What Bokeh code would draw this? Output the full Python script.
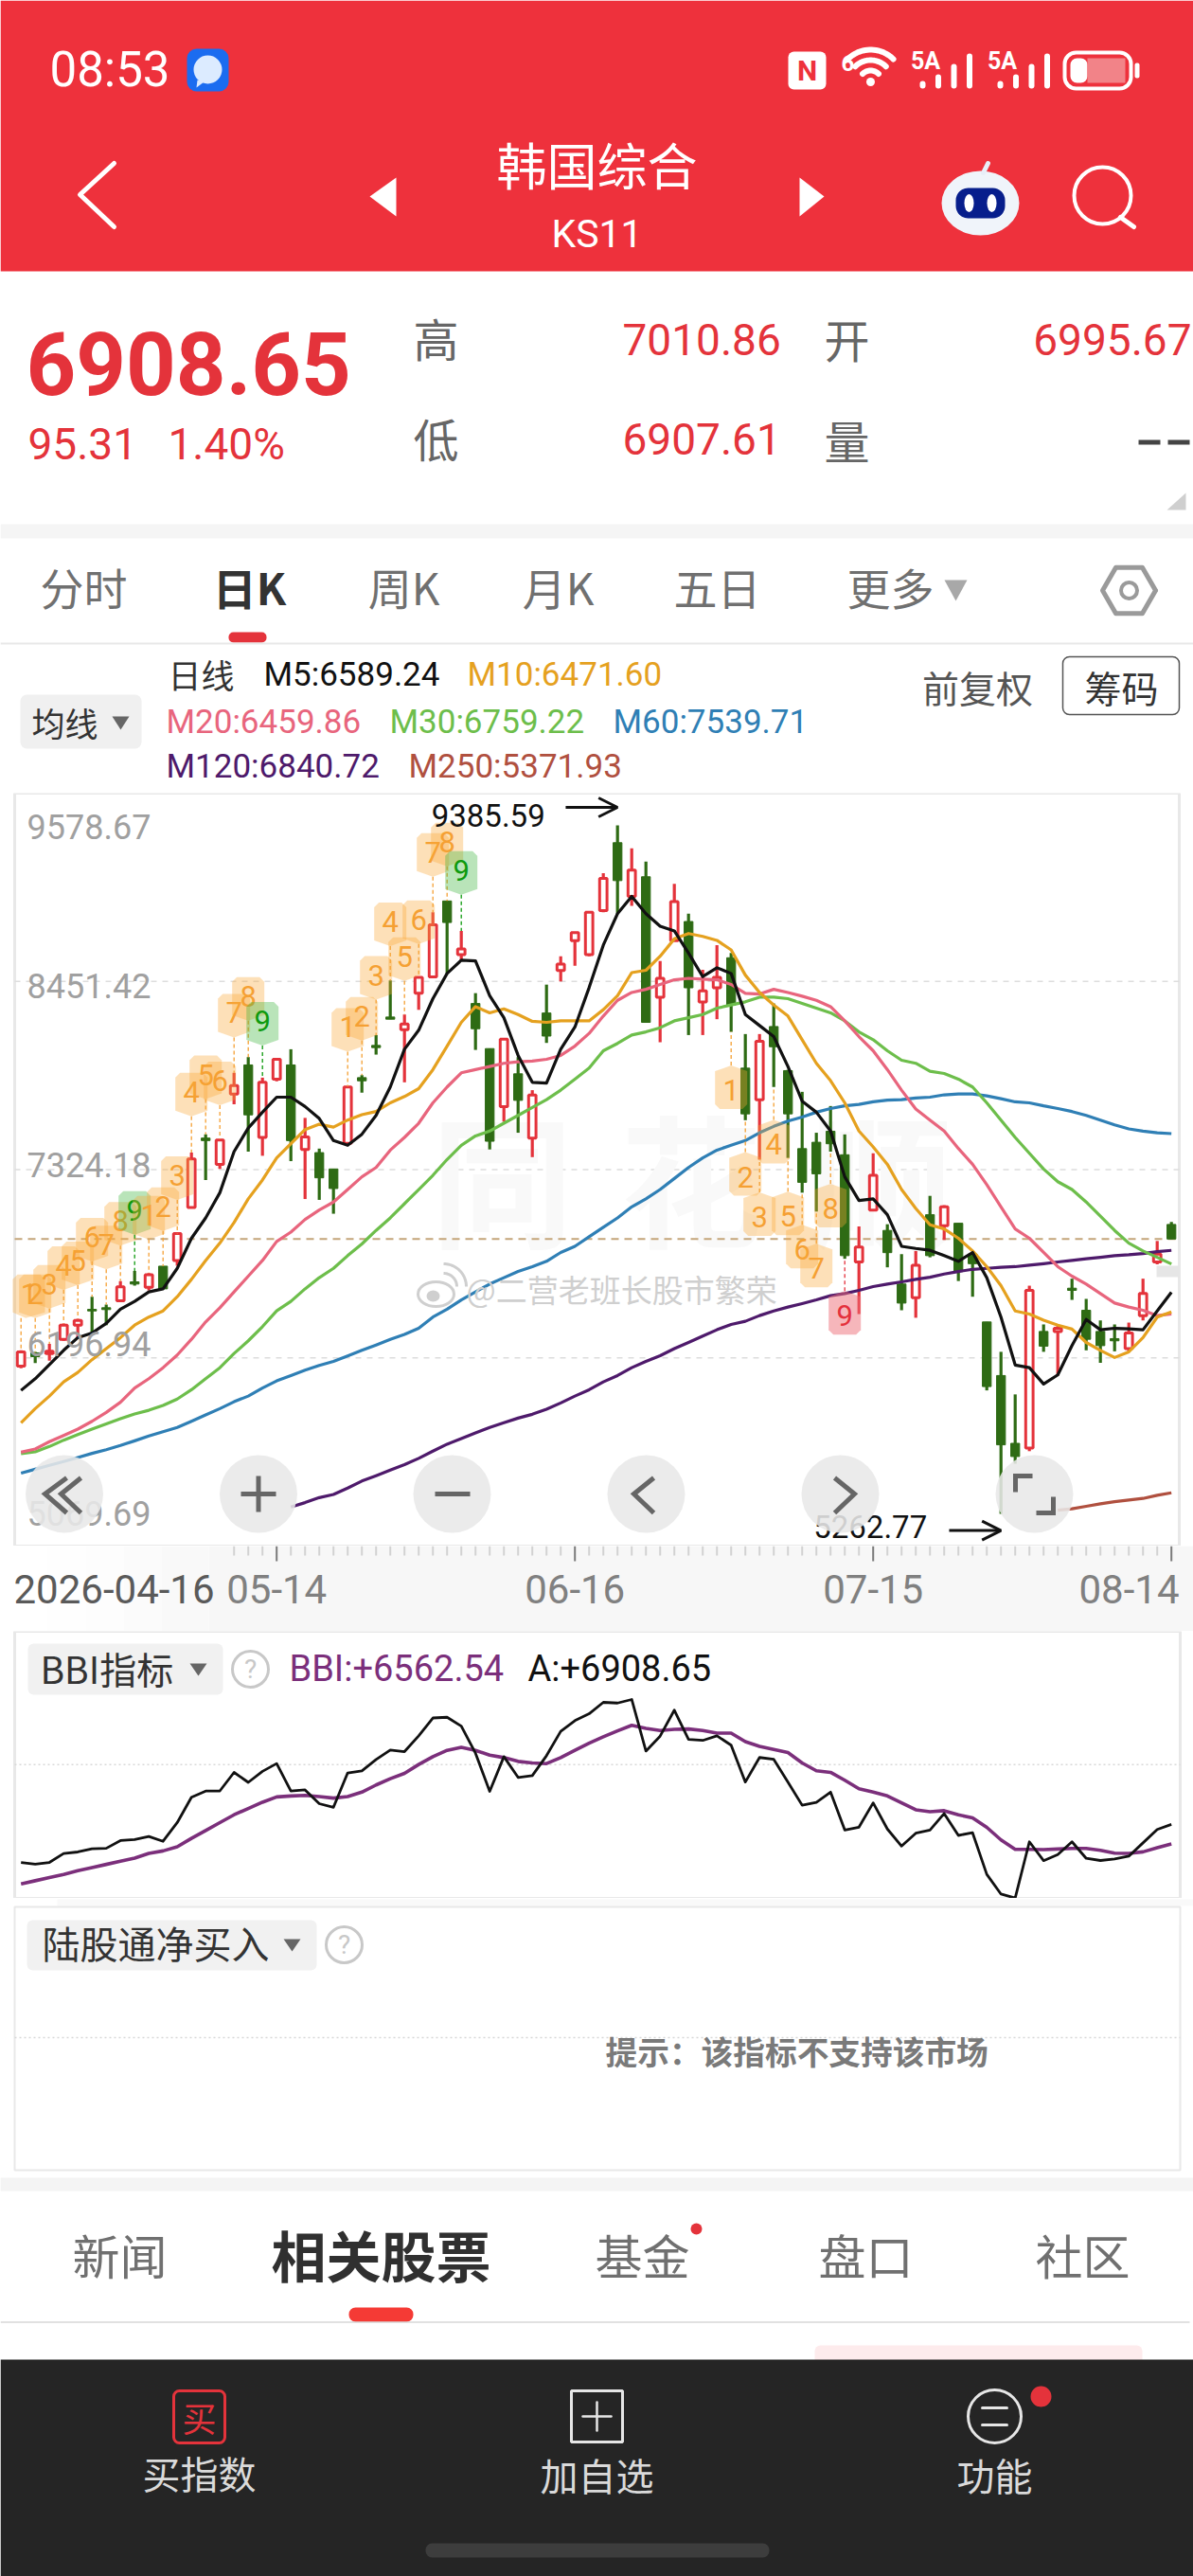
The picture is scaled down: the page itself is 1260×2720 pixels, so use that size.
import numpy as np
from bokeh.core.properties import value
from bokeh.embed import file_html
from bokeh.layouts import column
from bokeh.models import (Arrow, ColumnDataSource, OpenHead, Range1d)
from bokeh.plotting import figure
from bokeh.resources import INLINE

# ---------------------------------------------------------------- data
opens = [6148,6227,6223,6308,6393,6487,6497,6539,6652,6620,6746,6780,7097,7513,7356,7777,7951,7517,7866,7951,
         7445,7426,7328,7482,7875,8068,8238,8162,8381,8479,8933,8612,8319,8049,7702,7898,7513,8262,8517,8696,
         8612,8876,9282,8961,9078,8357,8696,8810,8328,8413,8593,7932,7743,8181,7917,7450,7488,7554,7413,6771,
         7082,6960,6639,6557,7054,6988,7003,6818,6412,6091,5685,5657,6355,6355,6614,6482,6355,6312,6252,6450,
         6771,6995.67]
highs = [6242,6233,6280,6403,6431,6563,6516,6657,6718,6705,6746,6941,7426,7535,7507,7904,7998,7875,7989,8045,
         7634,7450,7328,7822,7890,8130,8457,8253,8479,8866,8933,8753,8381,8049,8111,7998,7800,8432,8602,8747,
         8872,9099,9385.59,9248,9169,8574,9036,8857,8521,8668,8621,8136,8136,8319,7922,7790,7545,7705,7535,6984,
         7422,6997,6818,6837,7167,7111,7003,6827,6412,6233,5978,6629,6397,6393,6671,6550,6421,6397,6408,6671,
         6897,7010.86]
lows = [6135,6166,6180,6299,6317,6346,6393,6535,6629,6601,6610,6748,7092,7262,7328,7715,7432,7407,7853,7375,
        7148,7143,7060,7475,7785,8013,8225,7847,8281,8479,8498,8574,8041,7445,7611,7545,7399,8083,8451,8545,
        8602,8866,8857,8904,8206,8087,8696,8130,8130,8225,8149,7620,7384,7819,7394,7186,7073,7432,6790,6459,
        7082,6739,6482,6437,6799,6903,6657,6563,6002,5262.77,5563,5638,6233,6091,6544,6242,6167,6236,6233,6421,
        6757,6907.61]
closes = [6233,6204,6236,6393,6421,6478,6486,6623,6639,6695,6610,6941,7388,7498,7501,7828,7652,7847,7985,7498,
          7520,7275,7211,7819,7856,8055,8225,8196,8476,8791,8804,8646,8168,7494,8106,7739,7771,8124,8555,8744,
          8866,9068,9055,9118,8206,8470,8929,8413,8394,8476,8309,7658,8092,8060,7658,7248,7299,7479,6809,6860,
          7290,6827,6525,6752,6809,7101,6714,6761,6025,5676,5606,6601,6267,6374,6601,6308,6270,6299,6346,6582,
          6818,6908.65]
m5 = [6002,6072,6157,6242,6318,6346,6403,6488,6535,6592,6610,6733,6913,7035,7186,7432,7573,7668,7758,7758,
      7702,7630,7498,7470,7536,7649,7819,8045,8159,8348,8499,8578,8574,8366,8234,8008,7847,7842,8045,8178,
      8414,8669,8857,8961,8857,8782,8754,8621,8480,8533,8499,8253,8187,8121,7942,7734,7668,7555,7281,7139,
      7149,7054,6865,6852,6841,6809,6775,6828,6677,6441,6154,6138,6040,6095,6271,6427,6365,6374,6371,6365,
      6478,6589.24]
m10 = [5808,5893,5968,6053,6110,6186,6252,6318,6393,6441,6478,6563,6667,6780,6884,7007,7149,7262,7394,7479,
       7564,7596,7579,7621,7653,7672,7724,7762,7809,7923,8064,8206,8300,8263,8287,8253,8212,8206,8215,8215,
       8215,8282,8366,8504,8518,8602,8706,8738,8721,8697,8640,8489,8385,8310,8244,8102,7961,7857,7724,7555,
       7460,7356,7205,7092,6994,6969,6913,6837,6743,6629,6478,6459,6422,6393,6369,6289,6242,6199,6233,6318,
       6441,6471.60]
m20 = [5632,5651,5695,5732,5770,5817,5870,5931,6016,6072,6138,6214,6308,6412,6497,6592,6686,6780,6894,6950,
       7026,7082,7130,7205,7281,7337,7441,7517,7602,7724,7819,7904,7923,7942,7961,7970,7974,7985,8008,8064,
       8140,8244,8338,8385,8404,8433,8461,8470,8465,8461,8433,8380,8376,8404,8385,8363,8338,8300,8215,8121,
       8036,7923,7800,7687,7621,7555,7451,7356,7234,7101,6969,6913,6828,6743,6686,6639,6582,6525,6501,6482,
       6450,6459.86]
m30 = [5623,5634,5666,5704,5738,5770,5802,5832,5861,5883,5912,5950,6006,6072,6138,6223,6299,6384,6478,6535,
       6610,6677,6733,6809,6879,6960,7035,7120,7205,7290,7385,7470,7526,7555,7602,7649,7696,7743,7800,7866,
       7932,8036,8080,8130,8149,8174,8215,8234,8253,8291,8310,8329,8357,8357,8348,8319,8291,8263,8215,8149,
       8102,8036,7979,7961,7913,7900,7866,7819,7724,7621,7517,7422,7328,7252,7205,7130,7045,6960,6884,6837,
       6799,6759.22]
m60 = [5506,5530,5553,5576,5600,5625,5647,5672,5700,5729,5755,5780,5817,5855,5893,5934,5968,6016,6059,6091,
       6123,6152,6176,6208,6242,6274,6308,6337,6374,6441,6488,6544,6592,6639,6677,6714,6743,6775,6828,6865,
       6922,6979,7035,7101,7149,7205,7271,7337,7394,7441,7470,7498,7545,7583,7615,7639,7668,7690,7706,7715,
       7730,7740,7743,7753,7758,7772,7777,7777,7766,7749,7730,7724,7706,7690,7672,7649,7621,7592,7568,7555,
       7545,7539.71]
m120 = [float("nan")]*19 + [5304,5330,5360,5379,5417,5459,5491,5525,5557,5595,5638,5680,5714,5748,5780,5808,5836,
        5859,5889,5927,5968,6006,6053,6091,6138,6176,6210,6252,6289,6327,6365,6397,6416,6450,6478,6501,6522,
        6544,6569,6582,6601,6624,6639,6652,6667,6680,6699,6714,6727,6733,6739,6743,6752,6761,6771,6780,6790,
        6799,6809,6814,6822,6833,6840.72]
m250 = [float("nan")]*73 + [5285,5293,5308,5323,5336,5345,5355,5374,5389]
bbi = [5856,5912,5967,6023,6089,6145,6201,6256,6312,6395,6440,6512,6662,6801,6940,7079,7190,7301,7395,7412,
       7423,7401,7373,7401,7479,7606,7718,7812,7968,8107,8218,8273,8218,8134,8090,8023,7996,7984,8090,8218,
       8346,8457,8562,8662,8607,8568,8590,8596,8568,8523,8523,8373,8290,8234,8179,7996,7857,7829,7690,7540,
       7479,7412,7290,7167,7134,7151,7079,7023,6856,6634,6467,6467,6462,6473,6484,6484,6451,6401,6395,6423,
       6495,6562.54]

price_ticks = [9578.67, 8451.42, 7324.18, 6196.94, 5069.69]
price_labels = ["9578.67", "8451.42", "7324.18", "6196.94", "5069.69"]
grid_prices = [8451.42, 7324.18, 6196.94]
last_price = 6908.65
bbi_grid = 7968

date_ticks = [18, 39, 60, 81]
date_labels = ["05-14", "06-16", "07-15", "08-14"]
first_date = "2026-04-16"

td_up_index = [0,1,2,3,4,5,6,7,8,9,10,11,12,13,14,15,16,17,23,24,25,26,27,28,29,30,31]
td_up_digit = [1,2,3,4,5,6,7,8,9,1,2,3,4,5,6,7,8,9,1,2,3,4,5,6,7,8,9]
td_up_price = [6582,6582,6639,6752,6780,6922,6875,7016,7082,7054,7105,7290,7790,7894,7857,8263,8363,8215,
               8178,8244,8489,8810,8602,8823,9226,9288,9118]
td_dn_index = [50,51,52,53,54,55,56,57,58]
td_dn_digit = [1,2,3,4,5,6,7,8,9]
td_dn_price = [7800,7281,7041,7475,7045,6846,6733,7092,6450]

ma_names = ["M5", "M10", "M20", "M30", "M60", "M120", "M250"]
ma_last = ["6589.24", "6471.60", "6459.86", "6759.22", "7539.71", "6840.72", "5371.93"]

# ---------------------------------------------------------------- styling
W = 1260
RED = "#E4333B"
GRN = "#2E6B14"
ORG = "#F9A83B"
CJK = "Noto Sans CJK SC"
NUM = "Roboto"
MA_COL = ["#111111", "#E5A11F", "#E8657D", "#6DBE4B", "#2F7FB5", "#4E1A6B", "#B0503F"]
BAND_RED = "#EE313C"

def chrome(top, bottom):
    p = figure(width=W, height=bottom-top, x_range=Range1d(0, W), y_range=Range1d(bottom, top),
               min_border=0, toolbar_location=None, x_axis_location=None, y_axis_location=None,
               output_backend="svg", outline_line_color=None, background_fill_color="white",
               border_fill_color="white")
    p.grid.visible = False
    return p

def T(p, x, y, s, size, color, align="left", font=NUM, bold=False):
    if font == CJK:
        y -= 3
    p.text([x], [y], text=[s], text_font=value(font), text_font_size=f"{size}px", text_color=color,
           text_align=align, text_baseline="middle", text_font_style="bold" if bold else "normal")

def Q(p, x0, y0, x1, y1, color, r=0, line=None, lw=1):
    p.quad(left=[x0], right=[x1], top=[y0], bottom=[y1], fill_color=color, line_color=line, line_width=lw,
           border_radius=r)

def L(p, xs, ys, color, lw=3, cap="round"):
    p.line(xs, ys, line_color=color, line_width=lw, line_cap=cap, line_join="round")

def TRI(p, xs, ys, color):
    p.patch(xs, ys, fill_color=color, line_color=None)

def ARC(cx, cy, r, a0, a1, n=24):
    t = np.radians(np.linspace(a0, a1, n))
    return list(cx + r*np.cos(t)), list(cy - r*np.sin(t))

# ---------------------------------------------------------------- top chrome
a = chrome(0, 837)
Q(a, 0, 0, W, 286, BAND_RED)
T(a, 52, 73, "08:53", 51, "white", font=NUM, bold=False)
Q(a, 197, 51, 241, 96, "#1B6CF0", r=10)
a.ellipse([219], [73], width=[30], height=[30], fill_color="#DCEBFF", line_color=None)
TRI(a, [208, 215, 207], [84, 86, 92], "#DCEBFF")
# status icons
Q(a, 832, 54, 872, 94, "white", r=6)
T(a, 852, 74, "N", 30, BAND_RED, align="center", bold=True)
T(a, 895, 66, "6", 24, "white", align="center", bold=True)
for r_, lw_ in ((34, 6), (23, 6), (12, 6)):
    xs, ys = ARC(919, 86, r_, 45, 135)
    L(a, xs, ys, "white", lw_)
a.scatter([919], [86], size=9, fill_color="white", line_color=None)
for x0_, x1_ in ((961, 971), (1042, 1053)):
    T(a, x0_ + 16, 64, "5A", 25, "white", align="center", bold=True)
    for k, top_ in enumerate((85, 78, 67, 56)):
        bx = x1_ + 3 + k*16.5
        Q(a, bx-3, top_, bx+3, 93, "white", r=3)
Q(a, 1124, 55, 1194, 93, None, r=12, line="white", lw=4)
Q(a, 1130, 61, 1148, 87, "white", r=7)
Q(a, 1148, 61, 1188, 87, "#F28388", r=0)
Q(a, 1198, 66, 1203, 82, "white", r=2)
# nav
T(a, 630, 175, "韩国综合", 53, "white", align="center", font=CJK, bold=False)
T(a, 630, 246, "KS11", 41, "white", align="center")
L(a, [120, 84, 120], [172, 205, 239], "white", 5)
TRI(a, [418, 390, 418], [187, 207, 228], "white")
TRI(a, [844, 870, 844], [187, 207, 228], "white")
# robot
a.ellipse([1035], [214], width=[82], height=[68], fill_color="#F0F4FA", line_color=None)
L(a, [1038, 1043], [182, 172], "#E8EEF8", 5)
Q(a, 1009, 198, 1061, 230, "#071E8C", r=13)
a.ellipse([1023, 1047], [214, 214], width=[10, 10], height=[19, 19], fill_color="white", line_color=None)
# search
a.scatter([1164], [206], size=60, fill_color=None, line_color="white", line_width=4)
L(a, [1183, 1197], [229, 239], "white", 5)

# quote
T(a, 27, 383, "6908.65", 92, RED, bold=True)
T(a, 29, 468, "95.31", 46, RED)
T(a, 177, 468, "1.40%", 46, RED)
T(a, 460, 358, "高", 48, "#666666", align="center", font=CJK)
T(a, 460, 464, "低", 48, "#666666", align="center", font=CJK)
T(a, 894, 359, "开", 48, "#666666", align="center", font=CJK)
T(a, 894, 466, "量", 48, "#666666", align="center", font=CJK)
T(a, 657, 358, "7010.86", 46, RED)
T(a, 657, 463, "6907.61", 46, RED)
T(a, 1258, 358, "6995.67", 46, RED, align="right")
Q(a, 1202, 464, 1225, 469, "#444444")
Q(a, 1233, 464, 1256, 469, "#444444")
TRI(a, [1252, 1252, 1232], [520, 538, 538], "#CFCFCF")
Q(a, 0, 553, W, 568, "#F5F5F5")

# tabs
for x_, s_ in ((88, "分时"), (757, "五日"), (940, "更多")):
    T(a, x_, 621, s_, 46, "#707070", align="center", font=CJK)
for x_, s_ in ((426, "周K"), (589, "月K")):
    T(a, x_, 621, s_, 46, "#707070", align="center", font=CJK)
T(a, 263, 621, "日K", 46, "#333333", align="center", font=CJK, bold=True)
TRI(a, [997, 1021, 1009], [612, 612, 634], "#A8A8A8")
t_ = np.radians(np.arange(0, 361, 60))
L(a, list(1192 + 28*np.cos(t_)), list(623 + 28*np.sin(t_)), "#9A9A9A", 5)
a.scatter([1192], [623], size=17, fill_color=None, line_color="#9A9A9A", line_width=4)
Q(a, 241, 667, 281, 678, RED, r=5)
Q(a, 0, 678, W, 680, "#E8E8E8")

# legend
T(a, 177, 714, "日线", 35, "#333333", font=CJK)
lg_pos = [(278, 712), (493, 712), (175, 762), (411, 762), (647, 762), (175, 809), (431, 809)]
for (lx, ly), nm, val, col in zip(lg_pos, ma_names, ma_last, MA_COL):
    T(a, lx, ly, f"{nm}:{val}", 35, col)
Q(a, 21, 733, 149, 790, "#F0F0F0", r=7)
T(a, 68, 765, "均线", 35, "#333333", align="center", font=CJK)
TRI(a, [118, 136, 127], [756, 756, 770], "#666666")
T(a, 1032, 727, "前复权", 39, "#555555", align="center", font=CJK)
Q(a, 1122, 693, 1245, 754, "white", r=7, line="#555555", lw=1.5)
T(a, 1184, 727, "筹码", 39, "#333333", align="center", font=CJK)

# ---------------------------------------------------------------- main chart
idx = list(range(len(closes)))
PX0, PXD = 21.7, 15.0
X = lambda px: (px - PX0) / PXD
main_y0, main_y1 = price_ticks[-1], price_ticks[0]
PPP = (main_y1 - main_y0) / 795.0          # price per pixel
Y = lambda py: main_y0 + (1632 - py) * PPP

m = figure(width=W, height=795, x_range=Range1d(X(0), X(W)), y_range=Range1d(main_y0, main_y1),
           min_border=0, toolbar_location=None, x_axis_location=None, y_axis_location=None,
           output_backend="svg", outline_line_color=None, background_fill_color="white",
           border_fill_color="white")
m.grid.visible = False
m.quad(left=[X(15)], right=[X(1245)], top=[main_y1], bottom=[main_y0], fill_color="white",
       line_color="#E8E8E8", line_width=3)
m.segment(x0=[X(15)]*3, x1=[X(1245)]*3, y0=grid_prices, y1=grid_prices, line_color="#DDDDDD",
          line_width=1.5, line_dash="6 6")

# faint brand watermark
for xp, ch in ((530, "同"), (730, "花"), (930, "顺")):
    m.text([X(xp)], [Y(1240)], text=[ch], text_font=value(CJK), text_font_size="150px", text_color="#F9F9F9",
           text_align="center", text_baseline="middle", text_font_style="bold")

m.segment([X(15)], [last_price], [X(1245)], [last_price], line_color="#C4A57A", line_width=2, line_dash="8 6")

up = [i for i in idx if closes[i] >= opens[i]]
dn = [i for i in idx if closes[i] < opens[i]]
m.segment(x0=dn, x1=dn, y0=[lows[i] for i in dn], y1=[highs[i] for i in dn], line_color=GRN, line_width=3.2)
m.segment(x0=up, x1=up, y0=[lows[i] for i in up], y1=[highs[i] for i in up], line_color=RED, line_width=3.2)
m.vbar(x=dn, width=0.62, top=[opens[i] for i in dn], bottom=[closes[i] for i in dn], fill_color=GRN, line_color=GRN, line_width=1)
m.vbar(x=up, width=0.52, top=[closes[i] for i in up], bottom=[opens[i] for i in up], fill_color="white", line_color=RED, line_width=3)

for series, col in zip((m250, m120, m60, m30, m20, m10, m5), reversed(MA_COL)):
    m.line(idx, series, line_color=col, line_width=3.2, line_join="round")

# TD sequence pins
def pin(i, price, direction, xshift=0.0):
    cx = i + xshift
    hw, hh, tip, ch = 17/PXD, 20*PPP, 26*PPP, 5
    c = ch/PXD
    d = ch*PPP
    if direction == "up":   # tip points down, pin sits above the candle
        xs = [cx-hw+c, cx+hw-c, cx+hw, cx+hw, i+xshift*0.6, cx-hw, cx-hw]
        ys = [price+hh, price+hh, price+hh-d, price-hh, price-tip, price-hh, price+hh-d]
    else:
        xs = [cx-hw, cx, cx+hw, cx+hw, cx+hw-c, cx-hw+c, cx-hw]
        ys = [price+hh, price+tip, price+hh, price-hh+d, price-hh, price-hh, price-hh+d]
    return xs, ys

groups = []
for i, dg, pr in zip(td_up_index, td_up_digit, td_up_price):
    shift = 0.55 if i == 0 else 0.0
    groups.append((i, dg, pr, "up", shift))
for i, dg, pr in zip(td_dn_index, td_dn_digit, td_dn_price):
    groups.append((i, dg, pr, "dn", 0.0))

for i, dg, pr, d_, shift in groups:
    if dg == 9 and d_ == "up":
        fc, tc = "#3CB43C", "#0E9A0E"
    elif dg == 9:
        fc, tc = "#EE6E78", "#E4313C"
    else:
        fc, tc = ORG, "#F5A033"
    if d_ == "up":
        m.segment([i], [pr - 26*PPP], [i], [highs[i]], line_color=tc, line_width=1.3, line_dash="4 3")
    else:
        m.segment([i], [pr + 26*PPP], [i], [lows[i]], line_color=tc, line_width=1.3, line_dash="4 3")
    xs, ys = pin(i, pr, d_, shift)
    m.patch(xs, ys, fill_color=fc, fill_alpha=0.36 if fc != "#EE6E78" else 0.5, line_color=None)
    m.text([i + shift], [pr], text=[str(dg)], text_font=value(NUM), text_font_size="31px", text_color=tc,
           text_align="center", text_baseline="middle")

# price labels (inside the chart)
src = ColumnDataSource(dict(x=[X(28)]*5, y=price_ticks, t=price_labels, off=[35, 5, -5, -15, -35]))
m.text(x="x", y="y", text="t", y_offset="off", source=src, text_font=value(NUM), text_font_size="36px",
       text_color="#A0A0A0", text_align="left", text_baseline="middle")

# high / low marks
hi = max(highs); lo = min(lows)
hi_i = highs.index(hi); lo_i = lows.index(lo)
m.text([hi_i - 5.1], [hi + 105], text=[f"{hi:.2f}"], text_font=value(NUM), text_font_size="33px", text_color="#111111",
       text_align="right", text_baseline="middle", y_offset=8)
m.add_layout(Arrow(end=OpenHead(size=20, line_width=3, line_color="#111111"), x_start=hi_i-3.65, y_start=hi+108,
                   x_end=hi_i, y_end=hi+108, line_width=3, line_color="#111111"))
m.text([lo_i - 5.2], [lo - 75], text=[f"{lo:.2f}"], text_font=value(NUM), text_font_size="33px", text_color="#111111",
       text_align="right", text_baseline="middle")
m.add_layout(Arrow(end=OpenHead(size=20, line_width=3, line_color="#111111"), x_start=lo_i-3.65, y_start=lo-100,
                   x_end=lo_i, y_end=lo-100, line_width=3, line_color="#111111"))

# Weibo watermark
WM = "#CFCFCF"
m.ellipse([X(460)], [Y(1366)], width=[38/PXD], height=[26*PPP], fill_color=None, line_color=WM, line_width=3)
m.ellipse([X(457)], [Y(1368)], width=[14/PXD], height=[12*PPP], fill_color=WM, line_color=None)
xs_, ys_ = ARC(468, 1358, 14, 0, 90)
m.line([X(v) for v in xs_], [Y(v) for v in ys_], line_color=WM, line_width=3)
xs_, ys_ = ARC(468, 1358, 24, 0, 90)
m.line([X(v) for v in xs_], [Y(v) for v in ys_], line_color=WM, line_width=3)
m.text([X(492)], [Y(1360)], text=["@二营老班长股市繁荣"], text_font=value(CJK), text_font_size="33px", text_color=WM,
       text_align="left", text_baseline="middle")

# tag at the right edge
m.quad(left=[X(1221)], right=[X(1245)], top=[Y(1336)], bottom=[Y(1348)], fill_color="#E6E6E6", line_color=None)

# round buttons
bx = [67.5, 272.5, 477, 682, 887, 1092]
m.scatter([X(v) for v in bx], [Y(1577)]*6, size=82, fill_color="#E8E8E8", fill_alpha=0.88, line_color=None)
IC = "#666666"
def ML(pts, lw=5):
    m.line([X(px) for px, _ in pts], [Y(py) for _, py in pts], line_color=IC, line_width=lw, line_join="miter", line_cap="butt")
ML([(70, 1560), (47, 1577), (70, 1597)]); ML([(85, 1560), (64, 1577), (85, 1597)])
ML([(254, 1577), (291, 1577)]); ML([(272.5, 1558), (272.5, 1596)])
ML([(459, 1577), (496, 1577)])
ML([(690, 1560), (669, 1577), (690, 1597)]); ML([(881, 1560), (902, 1577), (881, 1597)])
ML([(1072, 1575), (1072, 1558), (1090, 1558)]); ML([(1094, 1597), (1112, 1597), (1112, 1580)])

# ---------------------------------------------------------------- date band with the time ticks
b = figure(width=W, height=90, x_range=Range1d(X(0), X(W)), y_range=Range1d(1722, 1632),
           min_border=0, toolbar_location=None, x_axis_location=None, y_axis_location=None,
           output_backend="svg", outline_line_color=None, background_fill_color="white", border_fill_color="white")
b.grid.visible = False
steps = [(90, "#FEFEFE"), (130, "#FDFDFD"), (170, "#FBFBFB"), (220, "#F9F9F9"), (W, "#F7F7F7")]
prev = 50
for xe, col in steps:
    b.quad(left=[X(prev)], right=[X(xe)], top=[1632], bottom=[1722], fill_color=col, line_color=None)
    prev = xe
minor = [i for i in range(15, 82) if i not in date_ticks]
b.segment(x0=minor, x1=minor, y0=[1632]*len(minor), y1=[1642]*len(minor), line_color="#D2D2D2", line_width=2)
b.segment(x0=date_ticks, x1=date_ticks, y0=[1632]*4, y1=[1648]*4, line_color="#7A7A7A", line_width=2)
b.text([X(14)], [1677], text=[first_date], text_font=value(NUM), text_font_size="42px", text_color="#5A5A5A",
       text_align="left", text_baseline="middle")
b.text(date_ticks[:3], [1677]*3, text=date_labels[:3], text_font=value(NUM), text_font_size="42px", text_color="#808080",
       text_align="center", text_baseline="middle")
b.text([X(1245)], [1677], text=[date_labels[3]], text_font=value(NUM), text_font_size="42px", text_color="#808080",
       text_align="right", text_baseline="middle")

# ---------------------------------------------------------------- BBI panel
bbi_lo, bbi_hi = 5600, 10324
c = figure(width=W, height=282, x_range=Range1d(X(0), X(W)), y_range=Range1d(bbi_lo, bbi_hi),
           min_border=0, toolbar_location=None, x_axis_location=None, y_axis_location=None,
           output_backend="svg", outline_line_color=None, background_fill_color="white",
           border_fill_color="white")
c.grid.visible = False
c.quad(left=[X(15)], right=[X(1246)], top=[bbi_hi], bottom=[bbi_lo], fill_color="white", line_color="#E8E8E8", line_width=3)
c.segment([X(15)], [bbi_grid], [X(1246)], [bbi_grid], line_color="#D8D8D8", line_width=1.5, line_dash="2 3")
c.line(idx, bbi, line_color="#7B2F7B", line_width=3.6, line_join="round")
c.line(idx, closes, line_color="#111111", line_width=2.8, line_join="round")
CX = X
CY = lambda py: bbi_hi - (py - 1722) * (bbi_hi - bbi_lo) / 282.0
c.quad(left=[CX(29)], right=[CX(235)], top=[CY(1735)], bottom=[CY(1789)], fill_color="#F1F1F1", line_color=None, border_radius=6)
c.text([CX(42)], [CY(1760)], text=["BBI指标"], text_font=value(CJK), text_font_size="39px", text_color="#333333", text_baseline="middle")
c.patch([CX(200), CX(218), CX(209)], [CY(1756), CY(1756), CY(1769)], fill_color="#666666", line_color=None)
c.scatter([CX(264)], [CY(1762)], size=38, fill_color="white", line_color="#C8C8C8", line_width=3)
c.text([CX(264)], [CY(1762)], text=["?"], text_font=value(NUM), text_font_size="28px", text_color="#C8C8C8", text_align="center", text_baseline="middle")
c.text([CX(305)], [CY(1761)], text=[f"BBI:+{bbi[-1]:.2f}"], text_font=value(NUM), text_font_size="38px", text_color="#7B2F7B", text_baseline="middle")
c.text([CX(557)], [CY(1761)], text=[f"A:+{closes[-1]:.2f}"], text_font=value(NUM), text_font_size="38px", text_color="#111111", text_baseline="middle")

# ---------------------------------------------------------------- lower chrome
e = chrome(2004, 2720)
Q(e, 60, 2005, W, 2012, "#F9F9F9")
Q(e, 15, 2013, 1246, 2291, "white", line="#E8E8E8", lw=2)
e.line([15, 1246], [2151, 2151], line_color="#D8D8D8", line_width=1.5, line_dash="2 3")
Q(e, 28, 2027, 334, 2080, "#F1F1F1", r=6)
T(e, 44, 2053, "陆股通净买入", 40, "#333333", font=CJK)
TRI(e, [299, 317, 308], [2047, 2047, 2060], "#666666")
e.scatter([363], [2053], size=38, fill_color="white", line_color="#C8C8C8", line_width=3)
T(e, 363, 2053, "?", 28, "#C8C8C8", align="center")
T(e, 639, 2168, "提示：该指标不支持该市场", 33.7, "#7A7A7A", font=CJK, bold=True)
Q(e, 0, 2299, W, 2313, "#F4F4F4")
for x_, s_ in ((126, "新闻"), (678, "基金"), (914, "盘口"), (1143, "社区")):
    T(e, x_, 2382, s_, 50, "#707070", align="center", font=CJK)
T(e, 402, 2382, "相关股票", 58, "#303030", align="center", font=CJK, bold=True)
e.scatter([735], [2353], size=12, fill_color=RED, line_color=None)
Q(e, 368, 2436, 436, 2451, "#F53A35", r=7)
Q(e, 0, 2451, 1256, 2452, "#C4C4C4")
Q(e, 860, 2476, 1206, 2500, "#FDEBEC", r=6)
Q(e, 0, 2491, W, 2720, "#252525")
# bottom bar icons
Q(e, 183, 2524, 237, 2579, "#252525", r=6, line=RED, lw=3)
T(e, 210, 2554, "买", 36, RED, align="center", font=CJK)
T(e, 210, 2613, "买指数", 40, "#DADADA", align="center", font=CJK)
Q(e, 603, 2524, 657, 2578, "#252525", line="#E6E6E6", lw=3)
L(e, [615, 645], [2551, 2551], "#E6E6E6", 2.5)
L(e, [630, 630], [2536, 2566], "#E6E6E6", 2.5)
T(e, 630, 2615, "加自选", 40, "#DADADA", align="center", font=CJK)
e.scatter([1050], [2551], size=56, fill_color=None, line_color="#E6E6E6", line_width=3)
L(e, [1037, 1063], [2542, 2542], "#E6E6E6", 3)
L(e, [1037, 1063], [2560, 2560], "#E6E6E6", 3)
T(e, 1050, 2615, "功能", 40, "#DADADA", align="center", font=CJK)
e.scatter([1099], [2530], size=22, fill_color=RED, line_color=None)
Q(e, 449, 2685, 812, 2700, "#3D3D3D", r=7)

page = column(a, m, b, c, e, spacing=0)
open("out.html", "w").write(file_html(page, INLINE))
